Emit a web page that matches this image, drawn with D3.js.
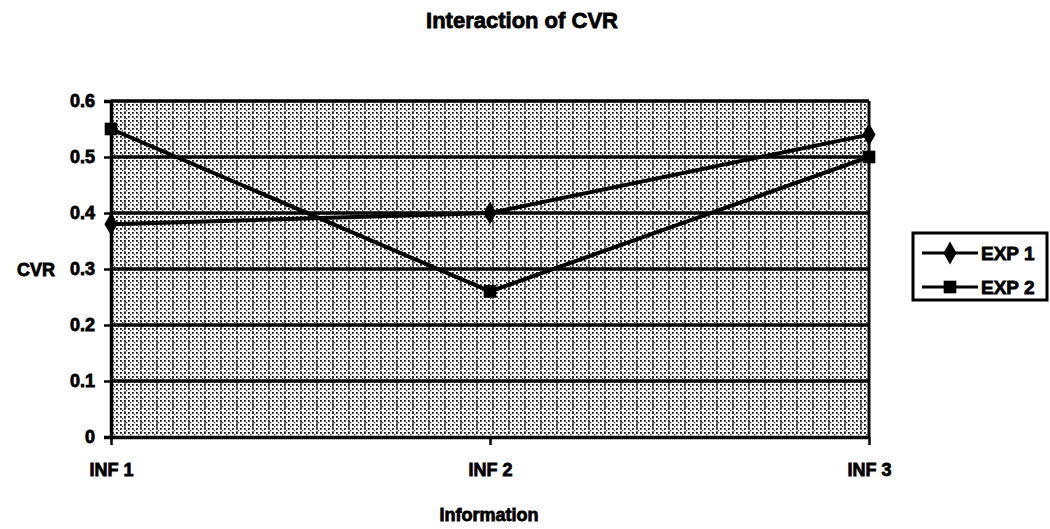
<!DOCTYPE html>
<html><head><meta charset="utf-8">
<script src="https://cdn.jsdelivr.net/npm/d3@7"></script>
<style>
body{margin:0;background:#fff;}
text{font-family:"Liberation Sans",Arial,sans-serif;font-weight:bold;fill:#000;stroke:#000;stroke-width:0.8px;}
</style></head>
<body><svg id="c" width="1050" height="529"></svg>
<script>
const categories = ["INF 1", "INF 2", "INF 3"];
const exp1 = [0.38, 0.40, 0.54];
const exp2 = [0.55, 0.26, 0.50];
const yTicks = [0, 0.1, 0.2, 0.3, 0.4, 0.5, 0.6];
const yTickLabels = ["0", "0.1", "0.2", "0.3", "0.4", "0.5", "0.6"];
const seriesNames = ["EXP 1", "EXP 2"];

const svg = d3.select("#c");
const L = 111, R = 869, T = 101, B = 437;
const x = d3.scalePoint().domain(categories).range([L, R]);
const y = d3.scaleLinear().domain([0, 0.6]).range([B, T]);

// pattern for the dotted background
const defs = svg.append("defs");
const pat = defs.append("pattern").attr("id", "dots").attr("patternUnits", "userSpaceOnUse")
  .attr("width", 8).attr("height", 8);
pat.append("rect").attr("width", 8).attr("height", 8).attr("fill", "#fff");
[[0,0],[4,0],[0,4],[4,4]].forEach(([a,b]) => pat.append("rect").attr("x", a).attr("y", b).attr("width", 1.8).attr("height", 1.8).attr("fill", "#111"));
pat.append("rect").attr("x", 2).attr("y", 2).attr("width", 1.3).attr("height", 1.3).attr("fill", "#444");
pat.append("rect").attr("x", 6).attr("y", 6).attr("width", 1.3).attr("height", 1.3).attr("fill", "#444");

svg.append("rect").attr("x", L).attr("y", T).attr("width", R - L).attr("height", B - T).attr("fill", "url(#dots)");

// vertical dashed minor lines
const vMinor = d3.range(L + 14, R, 16);
svg.append("g").selectAll("line").data(vMinor).join("line")
  .attr("x1", d => d).attr("x2", d => d).attr("y1", T).attr("y2", B)
  .attr("stroke", "#222").attr("stroke-width", 1.2).attr("stroke-dasharray", "3,2");

// major gridlines
svg.append("g").selectAll("line").data(yTicks.filter(v => v > 0)).join("line")
  .attr("x1", L).attr("x2", R).attr("y1", d => y(d)).attr("y2", d => y(d))
  .attr("stroke", "#000").attr("stroke-width", 3.5);

// frame: right border
svg.append("line").attr("x1", R).attr("x2", R).attr("y1", T).attr("y2", B).attr("stroke", "#000").attr("stroke-width", 3);

// Y axis
const yAxis = svg.append("g").attr("transform", `translate(${L},0)`)
  .call(d3.axisLeft(y).tickValues(yTicks).tickSize(7).tickPadding(9).tickFormat((d, i) => yTickLabels[i]));
yAxis.select(".domain").attr("stroke", "#000").attr("stroke-width", 3.5);
yAxis.selectAll(".tick line").attr("stroke", "#000").attr("stroke-width", 2.5);
yAxis.selectAll(".tick text").style("font-size", "18px").attr("stroke", "#000");

// X axis
const xAxis = svg.append("g").attr("transform", `translate(0,${B})`)
  .call(d3.axisBottom(x).tickSize(8).tickSizeOuter(0).tickPadding(18));
xAxis.select(".domain").attr("stroke", "#000").attr("stroke-width", 3.5);
xAxis.selectAll(".tick line").attr("stroke", "#000").attr("stroke-width", 2.5);
xAxis.selectAll(".tick text").style("font-size", "18px").attr("stroke", "#000");

// series
const line = d3.line().x((d, i) => x(categories[i])).y(d => y(d));
const series = [exp1, exp2];
series.forEach((s, k) => {
  svg.append("path").datum(s).attr("d", line).attr("fill", "none").attr("stroke", "#000").attr("stroke-width", 4);
});
const sym = [d3.symbol().type(d3.symbolDiamond).size(150), d3.symbol().type(d3.symbolSquare).size(160)];
series.forEach((s, k) => {
  svg.append("g").selectAll("path").data(s).join("path")
    .attr("transform", (d, i) => `translate(${x(categories[i])},${y(d)})`)
    .attr("d", sym[k]).attr("fill", "#000");
});

// title & axis titles
svg.append("text").attr("x", 522).attr("y", 28).attr("text-anchor", "middle").style("font-size", "22px").text("Interaction of CVR");
svg.append("text").attr("x", 489).attr("y", 521).attr("text-anchor", "middle").style("font-size", "18px").text("Information");
svg.append("text").attr("x", 55).attr("y", 276).attr("text-anchor", "end").style("font-size", "18px").text("CVR");

// legend
const lg = svg.append("g");
lg.append("rect").attr("x", 913).attr("y", 233).attr("width", 134).attr("height", 67).attr("fill", "#fff").attr("stroke", "#000").attr("stroke-width", 3);
seriesNames.forEach((n, k) => {
  const yy = 253 + k * 34;
  lg.append("line").attr("x1", 922).attr("x2", 978).attr("y1", yy).attr("y2", yy).attr("stroke", "#000").attr("stroke-width", 3);
  lg.append("path").attr("transform", `translate(950,${yy})`).attr("d", sym[k]).attr("fill", "#000");
  lg.append("text").attr("x", 981).attr("y", yy + 7).style("font-size", "19px").text(n);
});
</script></body></html>
